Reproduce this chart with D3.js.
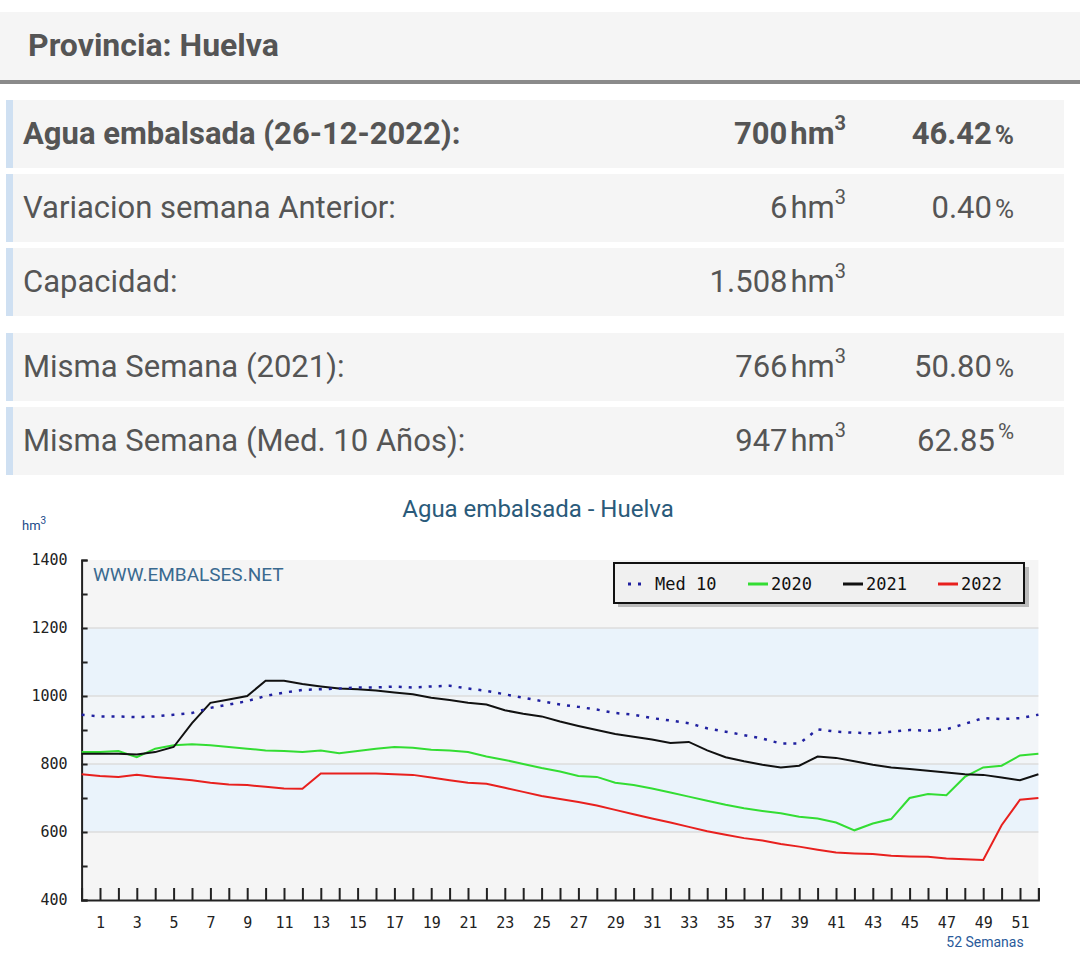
<!DOCTYPE html>
<html><head><meta charset="utf-8">
<script src="https://cdn.jsdelivr.net/npm/d3@7"></script>
<style>body{margin:0;background:#fff;width:1080px;height:975px;overflow:hidden;font-family:Roboto,sans-serif}</style>
</head><body><svg id="c" width="1080" height="975"></svg>
<script>
const weeks = d3.range(0,53);
const med10 = [945,940,940,938,940,945,950,965,975,985,1000,1010,1018,1020,1022,1025,1025,1028,1025,1028,1030,1022,1015,1005,995,985,975,968,960,950,945,935,928,920,905,895,885,875,860,860,902,895,892,890,895,900,898,902,918,935,932,935,945];
const s2020 = [835,835,838,820,845,855,858,855,850,845,840,838,835,840,832,838,845,850,848,842,840,835,822,812,800,788,778,765,762,745,738,728,716,704,692,680,670,662,655,645,640,628,605,625,638,700,712,708,762,790,795,825,830];
const s2021 = [830,830,830,828,835,850,920,980,990,1000,1045,1045,1035,1028,1022,1020,1016,1010,1005,995,988,980,975,958,948,940,925,912,900,888,880,872,862,865,840,820,808,798,790,795,822,818,808,798,790,785,780,775,770,768,760,752,770];
const s2022 = [770,765,762,768,762,757,752,745,740,738,733,728,727,772,772,772,772,770,768,760,752,745,742,730,718,706,697,688,678,665,652,640,628,615,602,592,582,575,565,557,548,540,537,535,530,528,527,522,520,518,620,695,700];
const yTicks = [400,600,800,1000,1200,1400];
const rows = [
 {label:"Agua embalsada (26-12-2022):", v:"700", pct:"46.42", bold:true},
 {label:"Variacion semana Anterior:", v:"6", pct:"0.40"},
 {label:"Capacidad:", v:"1.508", pct:""},
 {label:"Misma Semana (2021):", v:"766", pct:"50.80"},
 {label:"Misma Semana (Med. 10 Años):", v:"947", pct:"62.85"}
];
const rowY = [100,174,248,333,407];
const svg = d3.select("#c");
svg.append("rect").attr("x",0).attr("y",12).attr("width",1080).attr("height",68).attr("fill","#f5f5f5");
svg.append("rect").attr("x",0).attr("y",80).attr("width",1080).attr("height",4).attr("fill","#8a8a8a");
svg.append("text").attr("x",28).attr("y",56).attr("font-size",32).attr("font-weight","bold").attr("fill","#555").text("Provincia: Huelva");
rows.forEach((r,i)=>{
  const y=rowY[i];
  svg.append("rect").attr("x",6).attr("y",y).attr("width",1058).attr("height",68).attr("fill","#f5f5f5");
  svg.append("rect").attr("x",6).attr("y",y).attr("width",7).attr("height",68).attr("fill","#cfe0f2");
  const fw=r.bold?"bold":"normal";
  svg.append("text").attr("x",23).attr("y",y+44).attr("font-size",31).attr("font-weight",fw).attr("fill","#555").text(r.label);
  const t=svg.append("text").attr("x",846).attr("y",y+44).attr("font-size",31).attr("font-weight",fw).attr("fill","#555").attr("text-anchor","end");
  t.append("tspan").text(r.v);
  t.append("tspan").attr("dx",3).text("hm");
  t.append("tspan").attr("font-size",20).attr("dy",-14).text("3");
  if(r.pct){
    const p=svg.append("text").attr("x",1014).attr("y",y+44).attr("font-size",31).attr("font-weight",fw).attr("fill","#555").attr("text-anchor","end");
    p.append("tspan").text(r.pct);
    p.append("tspan").attr("dx",3).attr("font-size",i==4?22:26).attr("dy",i==4?-12:0).text("%");
  }
});
const x = d3.scaleLinear().domain([0,52]).range([81.6,1038.4]);
const y = d3.scaleLinear().domain([400,1400]).range([900,560]);
svg.append("text").attr("x",538).attr("y",517).attr("text-anchor","middle").attr("font-size",24).attr("fill","#2a5a7a").text("Agua embalsada - Huelva");
const hm=svg.append("text").attr("x",22).attr("y",530).attr("font-size",13).attr("fill","#1a4a8a");
hm.append("tspan").text("hm"); hm.append("tspan").attr("font-size",10).attr("dy",-6).text("3");
const bands=[[400,600,"#f5f5f5"],[600,800,"#eaf3fb"],[800,1000,"#f2f5f8"],[1000,1200,"#eaf3fb"],[1200,1400,"#f5f5f5"]];
bands.forEach(b=>svg.append("rect").attr("x",x(0)).attr("width",x(52)-x(0)).attr("y",y(b[1])).attr("height",y(b[0])-y(b[1])).attr("fill",b[2]));
[600,800,1000,1200].forEach(v=>svg.append("line").attr("x1",x(0)).attr("x2",x(52)).attr("y1",y(v)).attr("y2",y(v)).attr("stroke","#dcdcdc").attr("stroke-width",1.5));
svg.append("text").attr("x",93).attr("y",581).attr("font-size",19).attr("fill","#3a6a90").text("WWW.EMBALSES.NET");
const ya = svg.append("g").attr("transform",`translate(${x(0)},0)`).call(d3.axisLeft(y).tickValues(d3.range(400,1401,100)).tickSize(-6).tickFormat(d=>yTicks.includes(d)?d:""));
ya.selectAll("text").attr("x",-14).attr("font-size",15).attr("font-family","DejaVu Sans Mono, monospace").attr("fill","#222");
ya.select(".domain").attr("stroke","#222").attr("stroke-width",2);
ya.selectAll(".tick line").attr("stroke","#222").attr("stroke-width",2);
const xa = svg.append("g").attr("transform",`translate(0,${y(400)})`).call(d3.axisBottom(x).tickValues(d3.range(1,53)).tickSize(-12).tickFormat(d=>d%2?d:""));
xa.selectAll("text").attr("y",17).attr("font-size",15).attr("font-family","DejaVu Sans Mono, monospace").attr("fill","#222");
xa.select(".domain").attr("stroke","#222").attr("stroke-width",2);
xa.selectAll(".tick line").attr("stroke","#222").attr("stroke-width",2);
svg.append("text").attr("x",985).attr("y",947).attr("text-anchor","middle").attr("font-size",14).attr("fill","#2a5a9a").text("52 Semanas");
const line=d3.line().x((d,i)=>x(weeks[i])).y(d=>y(d));
svg.append("path").datum(s2022).attr("d",line).attr("fill","none").attr("stroke","#e8201e").attr("stroke-width",2);
svg.append("path").datum(s2020).attr("d",line).attr("fill","none").attr("stroke","#33dd33").attr("stroke-width",2);
svg.append("path").datum(s2021).attr("d",line).attr("fill","none").attr("stroke","#111").attr("stroke-width",2);
svg.append("path").datum(med10).attr("d",line).attr("fill","none").attr("stroke","#2020a0").attr("stroke-width",2.5).attr("stroke-dasharray","3,7");
const lg=svg.append("g");
lg.append("rect").attr("x",618).attr("y",567).attr("width",411).attr("height",40).attr("fill","#bbb");
lg.append("rect").attr("x",614).attr("y",563).attr("width",410).attr("height",40).attr("fill","#f0f0f0").attr("stroke","#111").attr("stroke-width",2);
const items=[["Med 10","#2020a0",true,628],["2020","#33dd33",false,748],["2021","#111",false,843],["2022","#e8201e",false,938]];
items.forEach(([t,c,dot,lx])=>{
  lg.append("line").attr("x1",lx).attr("x2",lx+20).attr("y1",584).attr("y2",584).attr("stroke",c).attr("stroke-width",3).attr("stroke-dasharray",dot?"3,7":null);
  lg.append("text").attr("x",lx+(dot?27:23)).attr("y",590).attr("font-size",17).attr("font-family","DejaVu Sans Mono, monospace").attr("fill","#111").text(t);
});
</script></body></html>
